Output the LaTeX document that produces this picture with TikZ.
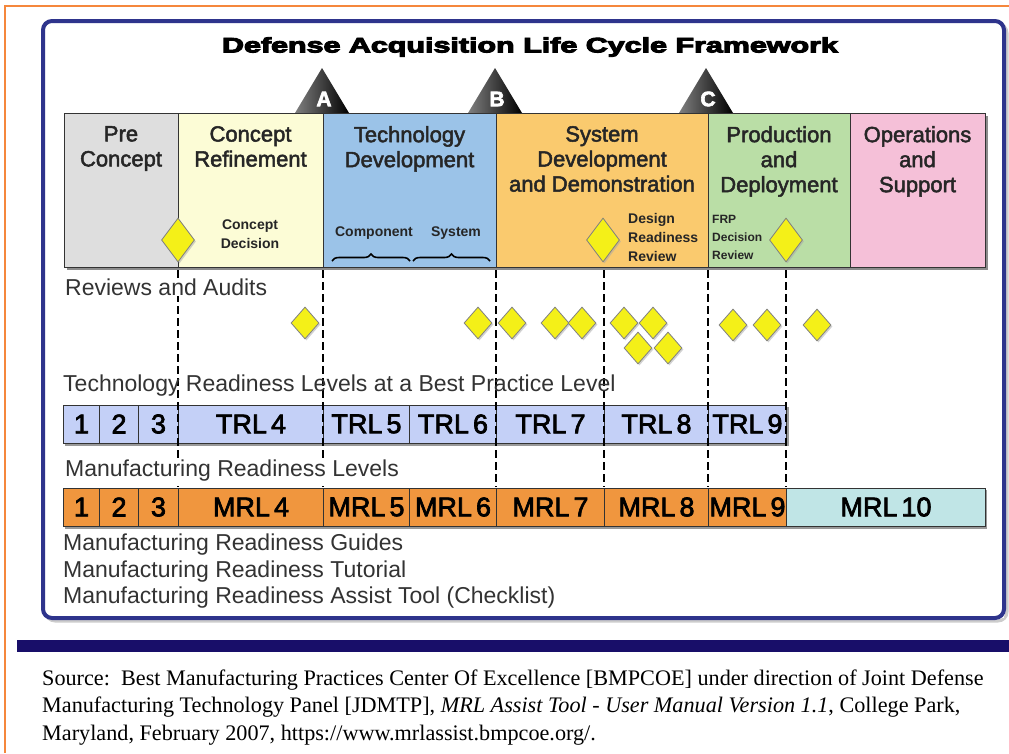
\documentclass[tikz,border=0pt]{standalone}
\usepackage{fontspec}
\setmainfont{Liberation Sans}
\newfontfamily\serifsrc{Liberation Serif}
\usepackage{xcolor}
\usetikzlibrary{shapes.geometric,positioning,decorations.pathreplacing,shadows}

\definecolor{framenavy}{RGB}{46,52,140}
\definecolor{barnavy}{RGB}{24,14,105}
\definecolor{edgeorange}{RGB}{245,135,60}
\definecolor{preconcept}{RGB}{222,222,222}
\definecolor{conceptref}{RGB}{252,252,214}
\definecolor{techdev}{RGB}{155,195,232}
\definecolor{sysdev}{RGB}{250,202,110}
\definecolor{proddep}{RGB}{186,222,166}
\definecolor{opsup}{RGB}{245,192,216}
\definecolor{trlblue}{RGB}{196,208,247}
\definecolor{mrlorange}{RGB}{240,150,62}
\definecolor{mrlcyan}{RGB}{192,229,230}
\definecolor{diayellow}{RGB}{244,240,24}

\newcommand{\lvlsp}{\hspace{0.15em}}
% stroke + fill text rendering for a heavier look
\newcommand{\heavytext}[2][0.5]{\special{pdf:literal direct 2 Tr #1 w}#2\special{pdf:literal direct 0 Tr}}

\begin{document}
\begin{tikzpicture}[x=1pt, y=-1pt,
    phasebox/.style={draw=black!80, line width=1.3pt, anchor=north west, minimum height=154pt, inner sep=0pt},
    phasetext/.style={anchor=north, align=center, text=black!85, inner sep=0pt, font=\fontsize{22}{25}\selectfont},
    notetext/.style={align=left, text=black!85, inner sep=0pt, font=\bfseries\fontsize{14}{19}\selectfont},
    bigdia/.style={diamond, fill=diayellow, draw=black!50, line width=0.8pt, minimum width=33pt, minimum height=44pt, inner sep=0pt,
        drop shadow={shadow xshift=1.5pt, shadow yshift=-1.5pt, fill=black!35}},
    revdia/.style={bigdia, minimum width=28pt, minimum height=32pt},
    levelcell/.style={draw=black!80, line width=1pt, anchor=west, minimum height=38pt, inner sep=0pt, font=\fontsize{27}{27}\selectfont},
    rowlabel/.style={anchor=west, text=black!80, inner sep=1pt, font=\fontsize{23}{27}\selectfont},
    gateline/.style={line width=2.2pt, dash pattern=on 8pt off 4pt}
]
    \useasboundingbox (0,0) rectangle (1009,753);

    % Outer page edge and framed panel
    \draw[edgeorange, line width=2pt] (5,753) -- (5,6) -- (1009,6);
    \draw[black!20, line width=3pt, rounded corners=9pt] (46,24) rectangle (1007,621);
    \fill[white] (43,21) rectangle (1004,618);
    \draw[framenavy, line width=4pt, rounded corners=9pt] (43,21) rectangle (1004,618);

    % Title
    \node[font=\bfseries\fontsize{21}{21}\selectfont] (title) at (530,47)
        {\scalebox{1.45}[1]{\heavytext[0.9]{Defense Acquisition Life Cycle Framework}}};

    % Milestones A, B, C
    \foreach \ms/\mx in {A/322,B/495,C/706} {
        \shade[left color=black!50, middle color=black, right color=black]
            (\mx-27,113) -- (\mx,68) -- (\mx+27,113) -- cycle;
        \node[text=white, font=\bfseries\fontsize{21}{21}\selectfont] (ms\ms) at (\mx+2,99) {\heavytext[0.6]{\ms}};
    }

    % Phases
    \fill[black!45] (67,116) rectangle (988,270);
    \foreach \nm/\xa/\xb/\col/\txt in {
        pre/64/178/preconcept/{Pre\\Concept},
        cr/178/323/conceptref/{Concept\\Refinement},
        td/323/496/techdev/{Technology\\Development},
        sdd/496/708/sysdev/{System\\Development\\and Demonstration},
        pd/708/850/proddep/{Production\\and\\Deployment},
        os/850/985/opsup/{Operations\\and\\Support}} {
        \node[phasebox, fill=\col, minimum width={(\xb-\xa)*1pt}] (\nm) at (\xa,113) {};
        \node[phasetext] (\nm-t) at ({(\xa+\xb)/2},126) {\heavytext[0.5]{\txt}};
    }

    % Decision points inside the phases
    \node[bigdia] (cd) at (178,240) {};
    \node[notetext, align=center] (cd-t) at (250,234) {Concept\\Decision};
    \node[notetext] (comp) at (374,233) {Component};
    \node[notetext] (sys) at (456,233) {System};
    \draw[line width=1.6pt, decorate, decoration={brace, amplitude=7pt}] (332,261) -- (410,261);
    \draw[line width=1.6pt, decorate, decoration={brace, amplitude=7pt}] (413,261) -- (490,261);
    \node[bigdia] (drr) at (603,240) {};
    \node[notetext, anchor=west] (drr-t) at (628,237) {Design\\Readiness\\Review};
    \node[bigdia] (frp) at (786,240) {};
    \node[notetext, anchor=west, font=\bfseries\fontsize{12}{18}\selectfont] (frp-t) at (712,237) {FRP\\Decision\\Review};

    % TRL row
    \fill[black!40] (65,407) rectangle (789,446);
    \foreach \xa/\xb/\txt [count=\i] in {63/99/1, 99/138/2, 138/178/3, 178/323/TRL\lvlsp4,
        323/409/TRL\lvlsp5, 409/496/TRL\lvlsp6, 496/604/TRL\lvlsp7, 604/708/TRL\lvlsp8, 708/786/TRL\lvlsp9}
        \node[levelcell, fill=trlblue, minimum width={(\xb-\xa)*1pt}] (trl\i) at (\xa,424) {\heavytext[0.7]{\txt}};

    % MRL row
    \fill[black!40] (65,490) rectangle (987,529);
    \foreach \xa/\xb/\txt [count=\i] in {63/99/1, 99/138/2, 138/178/3, 178/323/MRL\lvlsp4,
        323/409/MRL\lvlsp5, 409/496/MRL\lvlsp6, 496/604/MRL\lvlsp7, 604/708/MRL\lvlsp8, 708/786/MRL\lvlsp9}
        \node[levelcell, fill=mrlorange, minimum width={(\xb-\xa)*1pt}] (mrl\i) at (\xa,507) {\heavytext[0.7]{\txt}};
    \node[levelcell, fill=mrlcyan, minimum width=199pt] (mrl10) at (786,507) {\heavytext[0.7]{MRL\lvlsp10}};

    % Gate lines
    \foreach \gx in {178,323,496,604,708,786}
        \draw[gateline] (\gx,270) -- (\gx,487);

    % Reviews and audits
    \foreach \rx/\ry [count=\i] in {305/323, 478/323, 512/323, 555/323, 582/323, 624/323,
        653/323, 638/348, 668/348, 733/325, 767/325, 817/325}
        \node[revdia] (rev\i) at (\rx,\ry) {};

    % Labels
    \node[rowlabel, fill=white] (revlbl) at (64,287) {Reviews and Audits};
    \node[rowlabel] (trllbl) at (62,386) {Technology Readiness Levels at a Best Practice Level};
    \node[rowlabel, fill=white] (mrllbl) at (64,471) {Manufacturing Readiness Levels};
    \node[rowlabel] (guides) at (62,545) {Manufacturing Readiness Guides};
    \node[rowlabel] (tutor) at (62,572) {Manufacturing Readiness Tutorial};
    \node[rowlabel] (assist) at (62,598) {Manufacturing Readiness Assist Tool (Checklist)};

    % Source
    \fill[barnavy] (17,640) rectangle (1009,652);
    \node[anchor=base west, inner sep=0pt, font=\serifsrc\fontsize{22.2}{27}\selectfont] (src1) at (42,685)
        {Source:\ \ Best Manufacturing Practices Center Of Excellence [BMPCOE] under direction of Joint Defense};
    \node[anchor=base west, inner sep=0pt, font=\serifsrc\fontsize{22.2}{27}\selectfont] (src2) at (42,712)
        {Manufacturing Technology Panel [JDMTP], \textit{MRL Assist Tool - User Manual Version 1.1}, College Park,};
    \node[anchor=base west, inner sep=0pt, font=\serifsrc\fontsize{22.2}{27}\selectfont] (src3) at (42,740)
        {Maryland, February 2007, https://www.mrlassist.bmpcoe.org/.};
\end{tikzpicture}
\end{document}
